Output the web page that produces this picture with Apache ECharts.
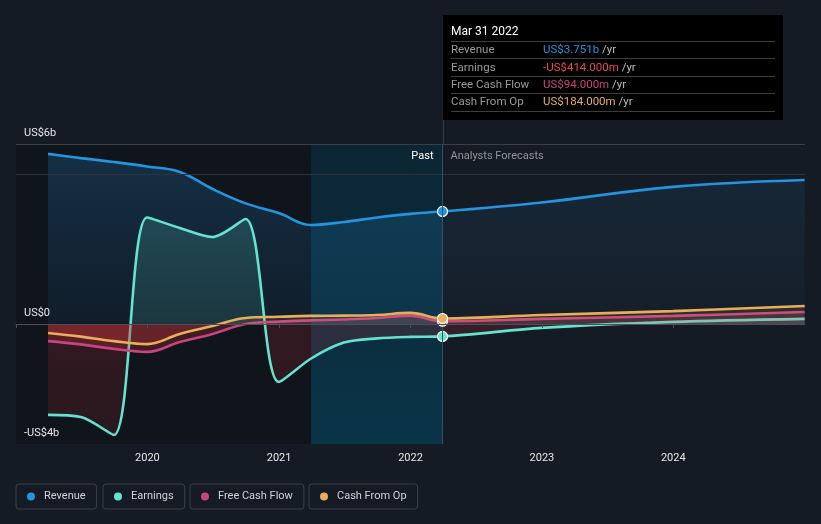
<!DOCTYPE html>
<html><head><meta charset="utf-8">
<script src="https://cdn.jsdelivr.net/npm/echarts@6/dist/echarts.min.js"></script>
<style>html,body{margin:0;padding:0;background:#151b24;}#c{width:821px;height:524px;}</style>
</head><body><div id="c"></div>
<script>
// ---- data (US$ billions) ----
const pastDates = ['2019-03-31','2019-06-30','2019-09-30','2019-12-31','2020-03-31','2020-06-30','2020-09-30','2020-12-31','2021-03-31','2021-06-30','2021-09-30','2021-12-31','2022-03-31'];
const forecastDates = ['2022-03-31','2022-12-31','2023-12-31','2024-12-31'];
const revenuePast = [5.67, 5.53, 5.40, 5.25, 5.07, 4.50, 4.02, 3.70, 3.30, 3.40, 3.55, 3.67, 3.751];
const revenueForecast = [3.751, 4.05, 4.57, 4.80];
const earningsPast = [-3.03, -3.10, -3.70, 3.55, 3.20, 2.90, 3.50, -1.93, -1.15, -0.62, -0.48, -0.43, -0.414];
const earningsForecast = [-0.414, -0.13, 0.07, 0.17];
const fcfPast = [-0.57, -0.68, -0.83, -0.93, -0.60, -0.33, 0.00, 0.08, 0.12, 0.15, 0.20, 0.28, 0.094];
const fcfForecast = [0.094, 0.17, 0.27, 0.40];
const cfoPast = [-0.30, -0.42, -0.57, -0.67, -0.33, -0.07, 0.20, 0.24, 0.27, 0.28, 0.30, 0.37, 0.184];
const cfoForecast = [0.184, 0.30, 0.43, 0.60];
const yLabelValues = [6, 0, -4];
const yLabelTexts = {'6':'US$6b', '0':'US$0', '-4':'-US$4b'};
const yearLabels = [2020, 2021, 2022, 2023, 2024];
const nowDate = '2022-03-31';
const highlightStart = '2021-03-31';
const axisStart = '2019-01-01';
const axisEnd = '2025-01-01';
const headerLineValues = [6, 5];
const tipTitle = 'Mar 31 2022';
const tipRows = [
  {label:'Revenue', value:'US$3.751b', color:'#2394df'},
  {label:'Earnings', value:'-US$414.000m', color:'#e8474f'},
  {label:'Free Cash Flow', value:'US$94.000m', color:'#c9437f'},
  {label:'Cash From Op', value:'US$184.000m', color:'#e8ae5a'}
];
const colors = {Revenue:'#2394df', Earnings:'#64e3cf', 'Free Cash Flow':'#c9437f', 'Cash From Op':'#e8ae5a'};

const FONT = 'Roboto';
function pairs(dates, vals){ return dates.map((d,i)=>[d, vals[i]]); }
function withMarker(dates, vals, color){
  return dates.map((d,i)=>{
    if (d === nowDate) return {value:[d, vals[i]], symbol:'circle', symbolSize:10, itemStyle:{color:color, borderColor:'#ffffff', borderWidth:1.2}};
    return {value:[d, vals[i]]};
  });
}
const fullDates = pastDates.concat(forecastDates.slice(1));
const earnAll = earningsPast.concat(earningsForecast.slice(1));
const fcfAll = fcfPast.concat(fcfForecast.slice(1));
const cfoAll = cfoPast.concat(cfoForecast.slice(1));

const chart = echarts.init(document.getElementById('c'), null, {renderer:'canvas'});

function lineBase(name, color, sm){
  return {type:'line', name:name, smooth:sm || 0.4, symbol:'none', showSymbol:true,
    lineStyle:{color:color, width:2.6}, itemStyle:{color:color}, emphasis:{disabled:true}, animation:false};
}

function buildOption(px){
  const g = (pos0,pos1,neg0,neg1)=>{
    if (!px) return 'rgba(0,0,0,0)';
    const f = (px.y0 - px.yTop)/(px.yBot - px.yTop);
    return {type:'linear', x:0, y:px.yTop, x2:0, y2:px.yBot, global:true, colorStops:[
      {offset:0,color:pos0},{offset:f,color:pos1},{offset:f,color:neg0},{offset:1,color:neg1}]};
  };
  const legends = [
    {name:'Revenue', left:16},{name:'Earnings', left:103},{name:'Free Cash Flow', left:190},{name:'Cash From Op', left:309}
  ].map(l=>({data:[l.name], left:l.left, top:484, orient:'horizontal', icon:'circle', itemWidth:8, itemHeight:8,
    padding:[7,11,7,11], borderColor:'#3a404a', borderWidth:1, borderRadius:3, selectedMode:false,
    textStyle:{color:'#cfd2d6', fontSize:11, fontFamily:FONT, padding:[0,0,0,4]}}));
  return {
    backgroundColor:'#151b24',
    animation:false,
    textStyle:{fontFamily:FONT},
    grid:{left:16, right:16, top:144, bottom:80, containLabel:false},
    legend: legends,
    xAxis:{type:'time', min:axisStart, max:axisEnd, splitNumber:6, z:10,
      axisLine:{show:true, lineStyle:{color:'#4a5059', width:1}},
      axisTick:{show:true, length:4, lineStyle:{color:'#4a5059'}},
      axisLabel:{color:'#e6e6e6', fontSize:11, fontFamily:FONT, margin:9,
        formatter:(v)=> { const y = new Date(v).getFullYear(); return yearLabels.indexOf(y) >= 0 ? String(y) : ''; }},
      splitLine:{show:false}},
    yAxis:{type:'value', min:-4, max:6, interval:2, z:10,
      axisLine:{show:false}, axisTick:{show:false}, splitLine:{show:false},
      axisLabel:{inside:true, margin:8, color:'#e6e6e6', fontSize:11, fontFamily:FONT, verticalAlign:'bottom', padding:[0,0,5,0],
        formatter:(v)=> yLabelValues.indexOf(v) >= 0 ? yLabelTexts[String(v)] : ''}},
    series:[
      {type:'line', name:'bg', data:[], silent:true, z:0, zlevel:0,
        markArea:{silent:true, data:[
          [{xAxis:axisStart, yAxis:6, itemStyle:{color:'#10141b'}},{xAxis:highlightStart, yAxis:-4}],
          [{xAxis:highlightStart, yAxis:6, itemStyle:{color:{type:'linear',x:0,y:0,x2:0,y2:1,colorStops:[{offset:0,color:'#0c2532'},{offset:1,color:'#0a3448'}]}}},{xAxis:nowDate, yAxis:-4}]
        ]},
        markLine:{silent:true, symbol:'none', label:{show:false}, data:[
          {yAxis:headerLineValues[0], lineStyle:{color:'#3a3f47', width:1, type:'solid'}},
          {yAxis:headerLineValues[1], lineStyle:{color:'#2e333b', width:1, type:'solid'}},
          {xAxis:nowDate, lineStyle:{color:'#2f5563', width:1, type:'solid'}}
        ]}},
      Object.assign(lineBase('Revenue', colors.Revenue), {data:withMarker(pastDates, revenuePast, colors.Revenue), z:3,
        areaStyle:{origin:0, color:{type:'linear',x:0,y:0,x2:0,y2:1,colorStops:[{offset:0,color:'rgba(35,148,223,0.30)'},{offset:1,color:'rgba(35,148,223,0.10)'}]}}}),
      Object.assign(lineBase('Revenue', colors.Revenue), {data:pairs(forecastDates, revenueForecast), z:3,
        areaStyle:{origin:0, color:{type:'linear',x:0,y:0,x2:0,y2:1,colorStops:[{offset:0,color:'rgba(35,148,223,0.14)'},{offset:1,color:'rgba(35,148,223,0.04)'}]}}}),
      Object.assign(lineBase('Earnings', colors.Earnings, 0.3), {data:withMarker(fullDates, earnAll, colors.Earnings), z:4,
        areaStyle:{origin:0, color:g('rgba(95,224,204,0.30)','rgba(95,224,204,0.18)','rgba(200,45,55,0.26)','rgba(200,45,55,0.20)')}}),
      Object.assign(lineBase('Free Cash Flow', colors['Free Cash Flow']), {data:withMarker(fullDates, fcfAll, colors['Free Cash Flow']), z:5,
        areaStyle:{origin:0, color:g('rgba(201,67,127,0.25)','rgba(201,67,127,0.25)','rgba(210,50,60,0.35)','rgba(210,50,60,0.35)')}}),
      Object.assign(lineBase('Cash From Op', colors['Cash From Op']), {data:withMarker(fullDates, cfoAll, colors['Cash From Op']), z:6,
        areaStyle:{origin:0, color:g('rgba(232,174,90,0.15)','rgba(232,174,90,0.15)','rgba(220,55,60,0.35)','rgba(220,55,60,0.35)')}}),
      {type:'line', name:'zero', data:[], silent:true, z:7,
        markLine:{silent:true, symbol:'none', label:{show:false}, data:[{yAxis:0, lineStyle:{color:'#f2f2f2', width:1.2, type:'solid'}}]}}
    ]
  };
}

chart.setOption(buildOption(null));
const px = {
  y0: chart.convertToPixel({yAxisIndex:0}, 0),
  yTop: chart.convertToPixel({yAxisIndex:0}, 6),
  yBot: chart.convertToPixel({yAxisIndex:0}, -4)
};
const nowX = Math.round(chart.convertToPixel({xAxisIndex:0}, +new Date(nowDate + 'T00:00:00'))) + 0.5;
const opt = buildOption(px);

const tipTop = 15, tipLeft = Math.round(nowX) - 1, tipW = 340, tipH = 105;
const gfx = [];
gfx.push({type:'line', shape:{x1:nowX, y1:tipTop+tipH, x2:nowX, y2:px.yTop}, style:{stroke:'#353b44', lineWidth:1}, z:1});
gfx.push({type:'rect', shape:{x:tipLeft, y:tipTop, width:tipW, height:tipH}, style:{fill:'#000000'}, z:10});
gfx.push({type:'text', x:tipLeft+8, y:tipTop+17, style:{text:tipTitle, fill:'#ffffff', font:'12px '+FONT, verticalAlign:'middle'}, z:11});
const sepYs = [26, 43, 61, 78, 96];
sepYs.forEach(dy=>gfx.push({type:'line', shape:{x1:tipLeft+8, y1:tipTop+dy+0.5, x2:tipLeft+332, y2:tipTop+dy+0.5}, style:{stroke:'#3d3d3d', lineWidth:1}, z:11}));
const rowYs = [35, 53, 70, 87];
tipRows.forEach((r,i)=>{
  gfx.push({type:'text', x:tipLeft+8, y:tipTop+rowYs[i], style:{text:r.label, fill:'#9a9a9a', font:'11.5px '+FONT, verticalAlign:'middle'}, z:11});
  gfx.push({type:'text', x:tipLeft+100, y:tipTop+rowYs[i], style:{text:'{v|'+r.value+'} {u|/yr}', verticalAlign:'middle', font:'11.5px '+FONT,
    rich:{v:{fill:r.color, font:'11.5px '+FONT}, u:{fill:'#bdbdbd', font:'11.5px '+FONT}}}, z:11});
});
gfx.push({type:'text', x:nowX-10, y:px.yTop+12, style:{text:'Past', fill:'#ffffff', font:'11px '+FONT, align:'right', verticalAlign:'middle'}, z:8});
gfx.push({type:'text', x:nowX+7, y:px.yTop+12, style:{text:'Analysts Forecasts', fill:'#8e949b', font:'11px '+FONT, align:'left', verticalAlign:'middle'}, z:8});
opt.graphic = gfx;
chart.setOption(opt, true);
</script></body></html>
